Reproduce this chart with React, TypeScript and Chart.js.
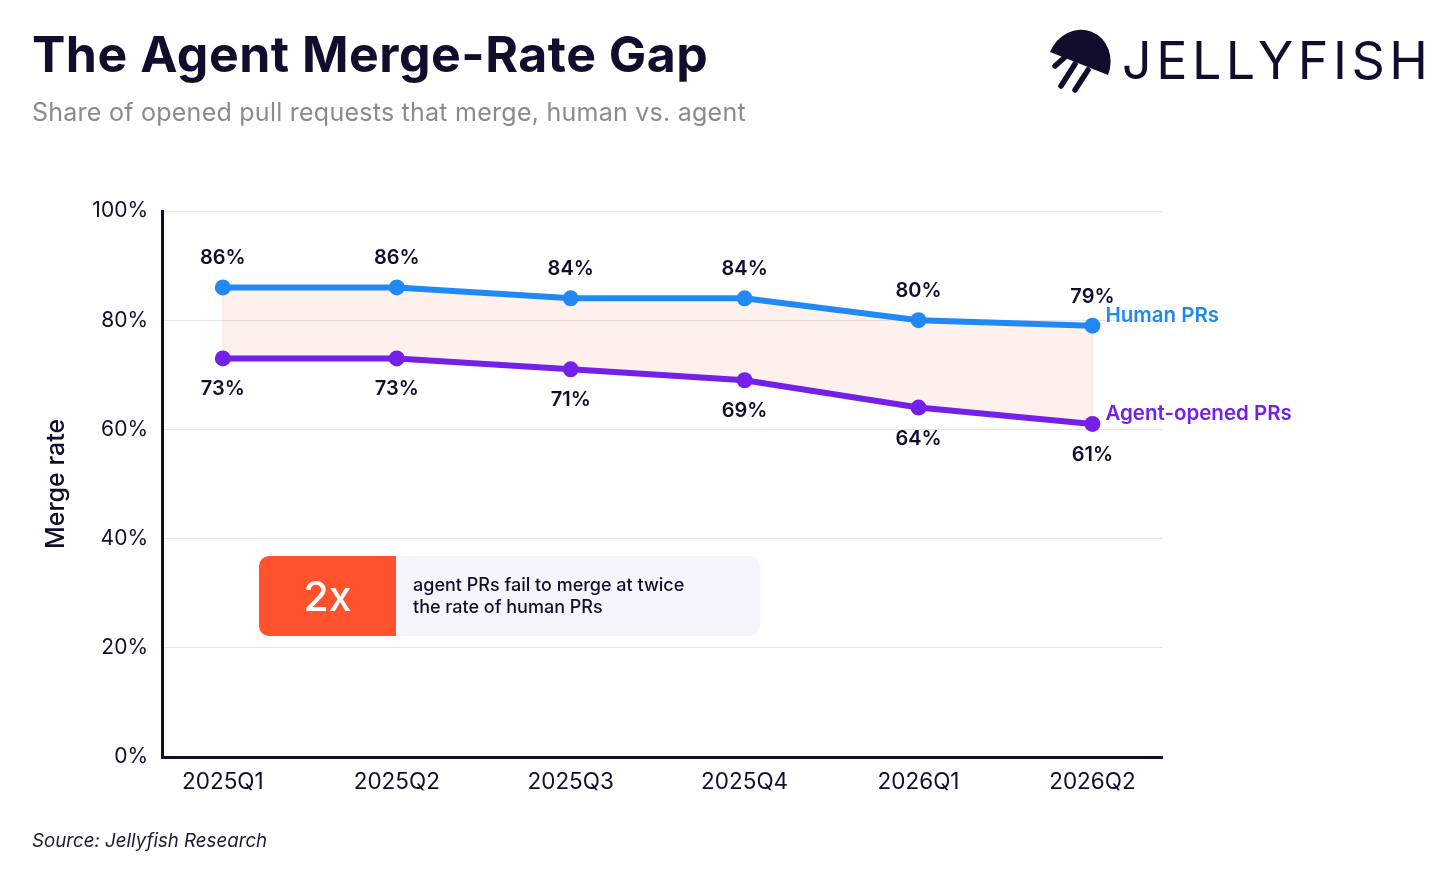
import React, { useEffect, useRef } from "react";
import { Chart, registerables } from "chart.js";

Chart.register(...registerables);

// ---- data ----
const categories = ["2025Q1", "2025Q2", "2025Q3", "2025Q4", "2026Q1", "2026Q2"];
const humanRates = [86, 86, 84, 84, 80, 79];
const agentRates = [73, 73, 71, 69, 64, 61];
const yTickValues = [0, 20, 40, 60, 80, 100];
const seriesNames = ["Human PRs", "Agent-opened PRs"];

const FONT = "Inter, 'Noto Sans', sans-serif";
const INK = "#100e2c";
const BLUE = "#2189f3";
const PURPLE = "#7420e8";
const GAP_FILL = "rgba(245, 110, 80, 0.10)";

const pointLabelPlugin = {
  id: "pointLabelPlugin",
  beforeDatasetsDraw(chart: any) {
    // faint vertical edges of the gap band
    const ctx = chart.ctx;
    const m0 = chart.getDatasetMeta(0).data;
    const m1 = chart.getDatasetMeta(1).data;
    ctx.save();
    ctx.strokeStyle = "rgba(235, 120, 95, 0.18)";
    ctx.lineWidth = 1;
    [0, m0.length - 1].forEach((i) => {
      ctx.beginPath();
      ctx.moveTo(m0[i].x, m0[i].y);
      ctx.lineTo(m1[i].x, m1[i].y);
      ctx.stroke();
    });
    ctx.restore();
  },
  afterDatasetsDraw(chart: any) {
    const ctx = chart.ctx;
    ctx.save();
    chart.data.datasets.forEach((ds: any, di: number) => {
      const meta = chart.getDatasetMeta(di);
      ctx.font = `600 20px ${FONT}`;
      ctx.fillStyle = INK;
      ctx.textAlign = "center";
      ctx.textBaseline = "middle";
      meta.data.forEach((pt: any, i: number) => {
        const v = ds.data[i].y;
        const dy = di === 0 ? -29 : 31;
        ctx.fillText(`${v}%`, pt.x, pt.y + dy);
      });
      const last = meta.data[meta.data.length - 1];
      ctx.font = `600 20.5px ${FONT}`;
      ctx.textAlign = "left";
      ctx.fillStyle = ds.borderColor;
      ctx.fillText(ds.label, last.x + 13, last.y - 10);
    });
    ctx.restore();
  },
};

function JellyfishIcon() {
  return (
    <svg
      width={80}
      height={80}
      viewBox="0 0 80 80"
      style={{ position: "absolute", left: 1040, top: 20 }}
    >
      <path d="M 10 32 A 31 34 22 0 1 68 55 Z" fill={INK} />
      <g stroke={INK} strokeWidth={5.5} strokeLinecap="round">
        <line x1={24} y1={38} x2={15} y2={46} />
        <line x1={35} y1={44} x2={21} y2={66} />
        <line x1={48} y1={50} x2={35} y2={70} />
      </g>
    </svg>
  );
}

export default function App() {
  const canvasRef = useRef<HTMLCanvasElement | null>(null);

  useEffect(() => {
    if (!canvasRef.current) return;
    const chart = new Chart(canvasRef.current, {
      type: "line",
      data: {
        datasets: [
          {
            label: seriesNames[0],
            data: humanRates.map((y, i) => ({ x: i, y })),
            borderColor: BLUE,
            backgroundColor: GAP_FILL,
            pointBackgroundColor: BLUE,
            pointBorderColor: BLUE,
            borderWidth: 6,
            pointRadius: 8,
            pointBorderWidth: 0,
            fill: "+1",
            tension: 0,
          },
          {
            label: seriesNames[1],
            data: agentRates.map((y, i) => ({ x: i, y })),
            borderColor: PURPLE,
            backgroundColor: PURPLE,
            pointBackgroundColor: PURPLE,
            pointBorderColor: PURPLE,
            borderWidth: 6,
            pointRadius: 8,
            pointBorderWidth: 0,
            fill: false,
            tension: 0,
          },
        ],
      },
      options: {
        animation: false,
        responsive: true,
        maintainAspectRatio: false,
        layout: { padding: { left: 30, top: 211, right: 294, bottom: 60 } },
        plugins: {
          legend: { display: false },
          tooltip: { enabled: false },
          filler: { drawTime: "beforeDatasetsDraw" },
        },
        scales: {
          x: {
            type: "linear",
            min: -0.35,
            max: 5.4,
            afterBuildTicks: (s: any) => {
              s.ticks = categories.map((_, i) => ({ value: i }));
            },
            ticks: {
              callback: (v: any) => categories[v] ?? "",
              font: { size: 22.5, family: FONT },
              color: INK,
              padding: 12,
              maxRotation: 0,
              autoSkip: false,
            },
            grid: { display: false, drawTicks: false },
            border: { display: true, color: INK, width: 3 },
            afterFit: (s: any) => {
              s.height = 70;
            },
          },
          y: {
            min: 0,
            max: 100,
            afterBuildTicks: (s: any) => {
              s.ticks = yTickValues.map((v) => ({ value: v }));
            },
            ticks: {
              callback: (v: any) => `${v}%`,
              font: { size: 21, family: FONT },
              color: INK,
              padding: 14,
            },
            grid: { color: "#e7e7eb", lineWidth: 1, drawTicks: false },
            border: { display: true, color: INK, width: 3 },
            title: {
              display: true,
              text: "Merge rate",
              font: { size: 25, family: FONT, weight: 500 },
              color: INK,
              padding: { top: 11, bottom: 0 },
            },
            afterFit: (s: any) => {
              s.width = 132;
            },
          },
        },
      },
      plugins: [pointLabelPlugin],
    } as any);
    return () => chart.destroy();
  }, []);

  return (
    <div
      style={{
        position: "absolute",
        left: 0,
        top: 0,
        width: 1456,
        height: 887,
        background: "#ffffff",
        fontFamily: FONT,
        overflow: "hidden",
      }}
    >
      <div style={{ position: "absolute", left: 0, top: 0, width: 1456, height: 887 }}>
        <canvas ref={canvasRef} />
      </div>

      <div
        style={{
          position: "absolute",
          left: 32,
          top: 29,
          fontSize: 50,
          lineHeight: 1,
          fontWeight: 700,
          color: INK,
          letterSpacing: 0.5,
          whiteSpace: "nowrap",
        }}
      >
        The Agent Merge-Rate Gap
      </div>
      <div
        style={{
          position: "absolute",
          left: 32,
          top: 100,
          fontSize: 25,
          lineHeight: 1,
          fontWeight: 400,
          color: "#8b8b8b",
          letterSpacing: 0.25,
          whiteSpace: "nowrap",
        }}
      >
        Share of opened pull requests that merge, human vs. agent
      </div>

      <JellyfishIcon />
      <div
        style={{
          position: "absolute",
          left: 1122,
          top: 35,
          fontSize: 52,
          lineHeight: 1,
          fontWeight: 400,
          color: INK,
          letterSpacing: 4.5,
          whiteSpace: "nowrap",
        }}
      >
        JELLYFISH
      </div>

      <div
        style={{
          position: "absolute",
          left: 259,
          top: 556,
          width: 501,
          height: 80,
          borderRadius: 10,
          overflow: "hidden",
          display: "flex",
          background: "#f6f4fc",
        }}
      >
        <div
          style={{
            width: 137,
            height: 80,
            background: "#ff522d",
            color: "#ffffff",
            fontSize: 41,
            fontWeight: 500,
            display: "flex",
            alignItems: "center",
            justifyContent: "center",
          }}
        >
          2x
        </div>
        <div
          style={{
            paddingLeft: 17,
            display: "flex",
            flexDirection: "column",
            justifyContent: "center",
            fontSize: 18,
            lineHeight: "22px",
            fontWeight: 500,
            color: INK,
          }}
        >
          <div>agent PRs fail to merge at twice</div>
          <div>the rate of human PRs</div>
        </div>
      </div>

      <div
        style={{
          position: "absolute",
          left: 32,
          top: 832,
          fontSize: 18.7,
          lineHeight: 1,
          fontStyle: "italic",
          color: "#1c1a30",
          whiteSpace: "nowrap",
        }}
      >
        Source: Jellyfish Research
      </div>
    </div>
  );
}
